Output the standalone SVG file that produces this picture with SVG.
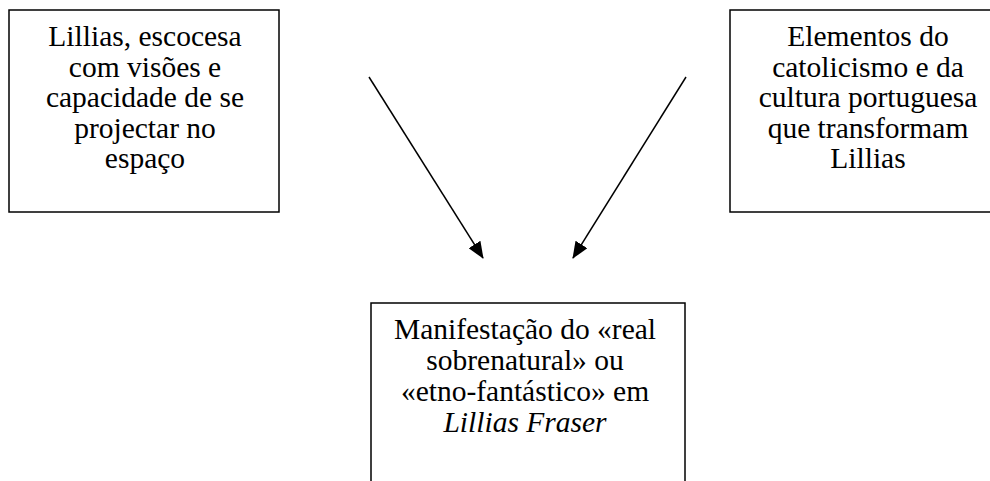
<svg xmlns="http://www.w3.org/2000/svg" width="990" height="481" viewBox="0 0 990 481">
<style>
  .box { fill: #fff; stroke: #000; stroke-width: 1.5; }
  .t { font-family: "Liberation Serif", "Times New Roman", serif; font-size: 29.5px; fill: #000; text-anchor: middle; }
  .it { font-style: italic; }
  .conn { stroke: #000; stroke-width: 1.5; fill: none; }
</style>
<defs>
  <marker id="ah" viewBox="0 0 17 14" refX="16" refY="7" markerWidth="17" markerHeight="14" markerUnits="userSpaceOnUse" orient="auto">
    <path d="M0,0 L17,7 L0,14 Z" fill="#000"/>
  </marker>
</defs>
<rect width="990" height="481" fill="#fff"/>
<g id="node-lillias">
  <rect class="box" x="9" y="10" width="270" height="202"/>
  <text class="t" x="145" y="46">Lillias, escocesa</text>
  <text class="t" x="145" y="76.5">com visões e</text>
  <text class="t" x="145" y="107">capacidade de se</text>
  <text class="t" x="145" y="137.5">projectar no</text>
  <text class="t" x="145" y="168">espaço</text>
</g>
<g id="node-elementos">
  <rect class="box" x="730" y="10" width="270" height="202"/>
  <text class="t" x="868" y="46">Elementos do</text>
  <text class="t" x="868" y="76.5">catolicismo e da</text>
  <text class="t" x="868" y="107">cultura portuguesa</text>
  <text class="t" x="868" y="137.5">que transformam</text>
  <text class="t" x="868" y="168">Lillias</text>
</g>
<g id="node-manifestacao">
  <rect class="box" x="371" y="303" width="314" height="200"/>
  <text class="t" x="525" y="339">Manifestação do «real</text>
  <text class="t" x="525" y="370">sobrenatural» ou</text>
  <text class="t" x="525" y="401">«etno-fantástico» em</text>
  <text class="t it" x="525" y="432">Lillias Fraser</text>
</g>
<g id="connectors">
  <line class="conn" x1="369" y1="77" x2="483" y2="258" marker-end="url(#ah)"/>
  <line class="conn" x1="686" y1="77" x2="573" y2="258" marker-end="url(#ah)"/>
</g>
</svg>
